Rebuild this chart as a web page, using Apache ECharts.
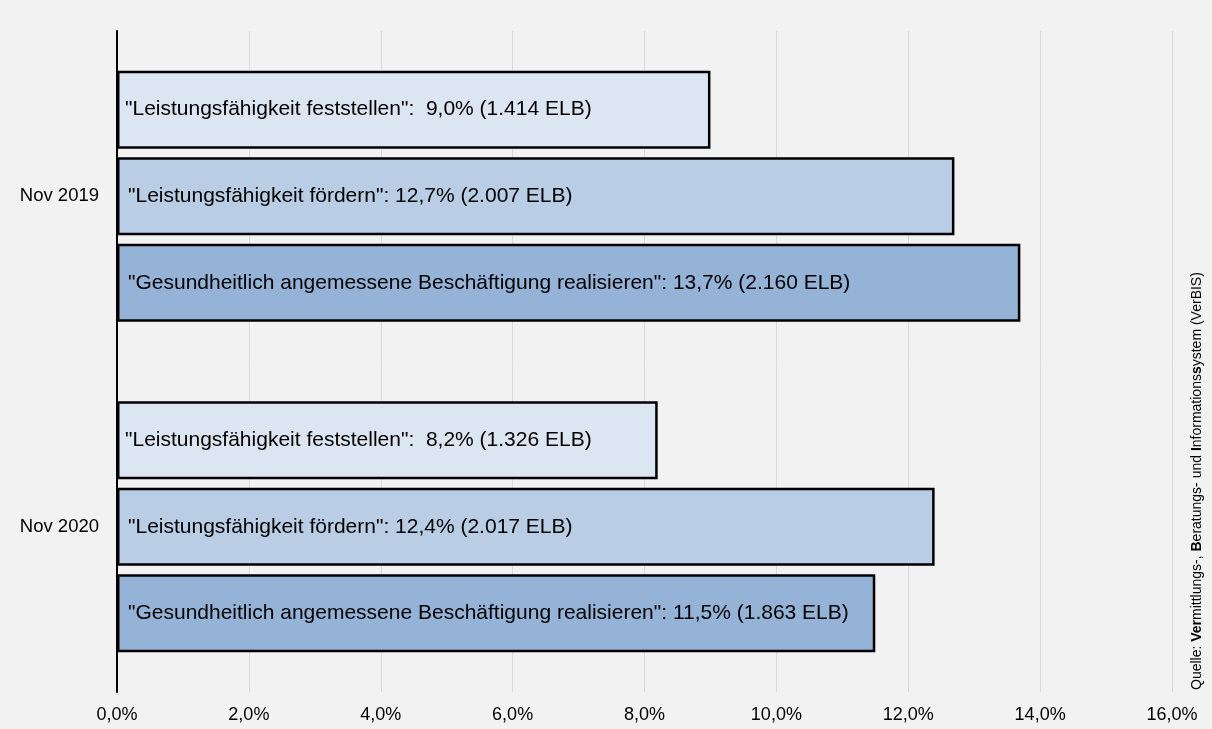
<!DOCTYPE html>
<html>
<head>
<meta charset="utf-8">
<script src="https://cdn.jsdelivr.net/npm/echarts@6/dist/echarts.min.js"></script>
<style>
  html, body { margin: 0; padding: 0; background: #f2f2f2; }
  #chart { width: 1212px; height: 729px; }
</style>
</head>
<body>
<div id="chart"></div>
<script>
// Stichtage (Kategorien)
const categories = ['Nov 2019', 'Nov 2020'];

// Handlungsbedarfe
const seriesNames = [
  'Leistungsfähigkeit feststellen',
  'Leistungsfähigkeit fördern',
  'Gesundheitlich angemessene Beschäftigung realisieren'
];

// Anteile in Prozent je Stichtag
const feststellenPct = [9.0, 8.2];
const foerdernPct = [12.7, 12.4];
const realisierenPct = [13.7, 11.5];

// Anzahl ELB je Stichtag
const feststellenELB = ['1.414', '1.326'];
const foerdernELB = ['2.007', '2.017'];
const realisierenELB = ['2.160', '1.863'];

// Achsenbeschriftung
const xTicks = [0, 2, 4, 6, 8, 10, 12, 14, 16];

const colors = ['#dce6f2', '#b9cde5', '#95b3d7'];
const fontFamily = 'Liberation Sans, Arial, sans-serif';

const fmtPct = v => v.toFixed(1).replace('.', ',') + '%';

function makeSeries(idx, values, elb, sep, dx) {
  return {
    name: seriesNames[idx],
    type: 'bar',
    data: values,
    barWidth: 78,
    barGap: '11%',
    barCategoryGap: '23%',
    itemStyle: { color: colors[idx], borderColor: '#000', borderWidth: 2.5 },
    label: {
      show: true,
      position: 'insideLeft',
      offset: [dx, 0],
      color: '#000',
      fontFamily: fontFamily,
      fontSize: 21,
      formatter: p => '"' + seriesNames[idx] + '":' + sep + fmtPct(values[p.dataIndex]) + ' (' + elb[p.dataIndex] + ' ELB)'
    }
  };
}

const chart = echarts.init(document.getElementById('chart'));
chart.setOption({
  backgroundColor: '#f2f2f2',
  animation: false,
  grid: { left: 117, right: 40, top: 31, bottom: 37 },
  xAxis: {
    type: 'value',
    min: 0,
    max: 16,
    interval: 2,
    axisLine: { show: false },
    axisTick: { show: false },
    splitLine: { show: true, lineStyle: { color: '#d9d9d9', width: 1 } },
    axisLabel: {
      color: '#000',
      fontFamily: fontFamily,
      fontSize: 18,
      margin: 14,
      formatter: v => xTicks.includes(v) ? fmtPct(v) : ''
    }
  },
  yAxis: {
    type: 'category',
    data: categories,
    inverse: true,
    axisLine: { show: true, lineStyle: { color: '#000', width: 2 } },
    axisTick: { show: false },
    axisLabel: { color: '#000', fontFamily: fontFamily, fontSize: 18.5, margin: 18 }
  },
  series: [
    makeSeries(0, feststellenPct, feststellenELB, '  ', 3),
    makeSeries(1, foerdernPct, foerdernELB, ' ', 6),
    makeSeries(2, realisierenPct, realisierenELB, ' ', 6)
  ],
  graphic: [{
    type: 'text',
    x: 1197,
    y: 690,
    rotation: Math.PI / 2,
    style: {
      text: 'Quelle: {b|Ver}mittlungs-, {b|B}eratungs- und {b|I}nformations{b|s}ystem (VerBIS)',
      fontFamily: fontFamily,
      fontSize: 14,
      fill: '#000',
      align: 'left',
      verticalAlign: 'middle',
      rich: {
        b: { fontWeight: 'bold', fontFamily: fontFamily, fontSize: 14, fill: '#000' }
      }
    }
  }]
});
</script>
</body>
</html>
